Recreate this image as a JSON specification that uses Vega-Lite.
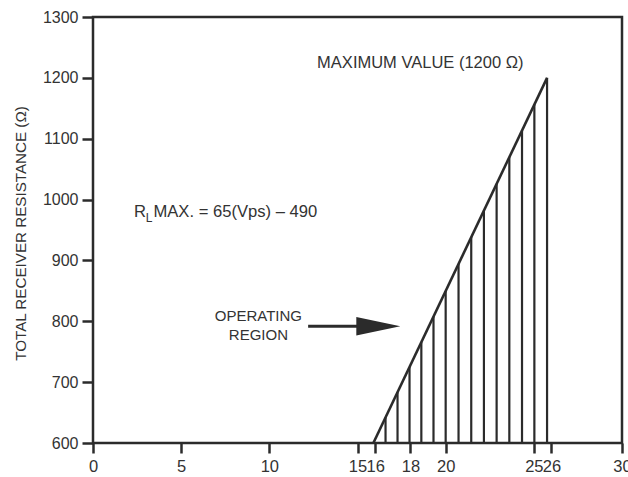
{
  "$schema": "https://vega.github.io/schema/vega-lite/v6.json",
  "width": 529,
  "height": 426,
  "autosize": {"type": "none"},
  "padding": {"left": 93, "top": 17, "right": 6, "bottom": 34},
  "background": "white",
  "config": {
    "view": {"stroke": "#2b2b2b", "strokeWidth": 2.5},
    "axis": {"grid": false, "domain": false, "labelFont": "Liberation Sans", "labelFontSize": 16, "labelColor": "#333333", "tickColor": "#2b2b2b", "tickWidth": 2.5, "tickSize": 11},
    "text": {"font": "Liberation Sans", "fill": "#333333"}
  },
  "encoding": {
    "x": {"field": "v", "type": "quantitative", "scale": {"domain": [0, 30], "nice": false, "zero": false},
      "axis": {"values": [0, 5, 10, 15, 16, 18, 20, 25, 26, 30], "title": null, "labelOverlap": false, "labelFlush": false, "labelBound": false, "labelPadding": 5, "tickSize": 10, "labelFontSize": 16.5}},
    "y": {"field": "r", "type": "quantitative", "scale": {"domain": [600, 1300], "nice": false, "zero": false},
      "axis": {"values": [600, 700, 800, 900, 1000, 1100, 1200, 1300], "format": "d", "title": "TOTAL RECEIVER RESISTANCE (\u03a9)", "titleFont": "Liberation Sans", "titleFontSize": 15.2, "titleFontWeight": "normal", "titleColor": "#333333", "titleX": -73, "titleY": 216, "titleAngle": -90, "titleAlign": "center", "titleBaseline": "middle", "labelPadding": 4}}
  },
  "layer": [
    {
      "data": {"values": [{"v": 15.9, "r": 600}, {"v": 25.75, "r": 1200}]},
      "mark": {"type": "line", "stroke": "#2b2b2b", "strokeWidth": 2.6}
    },
    {
      "data": {"values": [
        {"v": 16.59, "r": 642.0}, {"v": 17.27, "r": 683.4}, {"v": 17.95, "r": 724.9}, {"v": 18.62, "r": 765.7},
        {"v": 19.31, "r": 807.7}, {"v": 20.0, "r": 849.7}, {"v": 20.73, "r": 894.2}, {"v": 21.45, "r": 938.1},
        {"v": 22.17, "r": 981.9}, {"v": 22.89, "r": 1025.8}, {"v": 23.61, "r": 1069.6}, {"v": 24.33, "r": 1113.5},
        {"v": 25.03, "r": 1156.1}, {"v": 25.75, "r": 1200}
      ]},
      "mark": {"type": "rule", "stroke": "#2b2b2b", "strokeWidth": 2.2},
      "encoding": {"y2": {"datum": 600}}
    },
    {
      "data": {"values": [{"v": 12.2, "v2": 15.3, "r": 791.8}]},
      "mark": {"type": "rule", "stroke": "#2b2b2b", "strokeWidth": 3},
      "encoding": {"x2": {"field": "v2"}}
    },
    {
      "data": {"values": [{"v": 16.18, "r": 791.8}]},
      "mark": {"type": "point", "shape": "M -1 -0.42 L 1 0 L -1 0.42 Z", "size": 1936, "filled": true, "fill": "#2b2b2b", "opacity": 1, "strokeWidth": 0}
    },
    {
      "data": {"values": [
        {"v": 12.71, "r": 1224.3, "label": "MAXIMUM VALUE (1200 \u03a9)"}
      ]},
      "mark": {"type": "text", "align": "left", "baseline": "middle", "fontSize": 16.5},
      "encoding": {"text": {"field": "label"}}
    },
    {
      "data": {"values": [
        {"v": 2.33, "r": 979.8, "label": "R"},
        {"v": 3.43, "r": 979.8, "label": "MAX. = 65(Vps) \u2013 490"}
      ]},
      "mark": {"type": "text", "align": "left", "baseline": "middle", "fontSize": 16.6},
      "encoding": {"text": {"field": "label"}}
    },
    {
      "data": {"values": [{"v": 2.99, "r": 970, "label": "L"}]},
      "mark": {"type": "text", "align": "left", "baseline": "middle", "fontSize": 12},
      "encoding": {"text": {"field": "label"}}
    },
    {
      "data": {"values": [
        {"v": 9.38, "r": 808, "label": "OPERATING"},
        {"v": 9.38, "r": 777.8, "label": "REGION"}
      ]},
      "mark": {"type": "text", "align": "center", "baseline": "middle", "fontSize": 15},
      "encoding": {"text": {"field": "label"}}
    }
  ]
}
